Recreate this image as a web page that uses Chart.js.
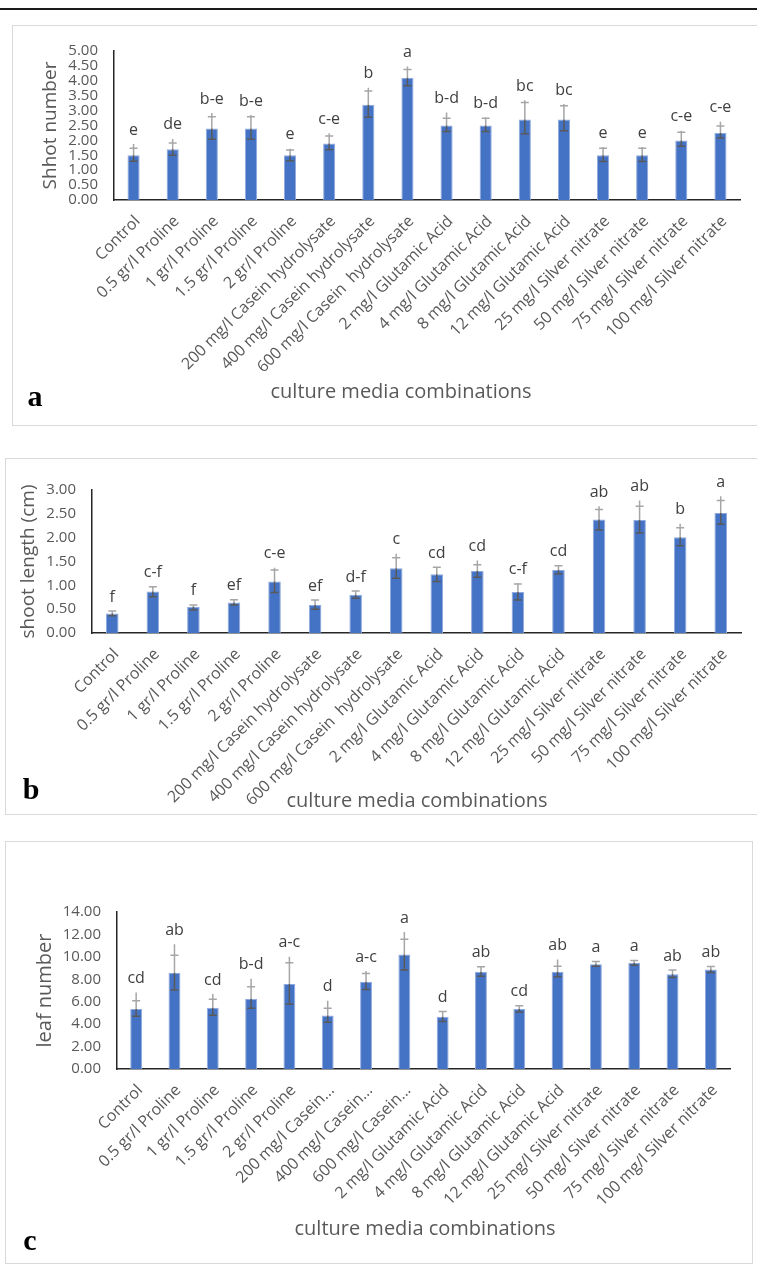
<!DOCTYPE html>
<html>
<head>
<meta charset="utf-8">
<script src="https://cdn.jsdelivr.net/npm/chart.js@4.4.1/dist/chart.umd.min.js"></script>
<style>
  body { margin: 0; background: #fff; width: 757px; height: 1267px; position: relative; overflow: hidden; }
  .rule { position: absolute; left: 0; top: 8px; width: 757px; height: 2px; background: #1a1a1a; }
  .box { position: absolute; border: 1px solid #d9d9d9; box-sizing: border-box; }
  canvas { position: absolute; }
  .xt { position: absolute; font: 20px "Open Sans", sans-serif; color: #595959; transform: translate(-50%, -50%); white-space: nowrap; }
  .pl { position: absolute; font: bold 30px "Liberation Serif", "Times New Roman", serif; color: #000; transform: translate(-50%, -50%); }
</style>
</head>
<body>
<div class="rule"></div>
<div class="box" style="left:12px;top:25px;width:760px;height:401px"></div>
<div class="box" style="left:5px;top:458px;width:760px;height:357px"></div>
<div class="box" style="left:5px;top:841px;width:748px;height:423px"></div>

<canvas id="chartA" width="745" height="399" style="left:12px;top:26px"></canvas>
<canvas id="chartB" width="752" height="354" style="left:5px;top:459px"></canvas>
<canvas id="chartC" width="746" height="420" style="left:5px;top:842px"></canvas>

<div class="xt" style="left:401px;top:390px">culture media combinations</div>
<div class="xt" style="left:417px;top:799px">culture media combinations</div>
<div class="xt" style="left:425px;top:1227px">culture media combinations</div>
<div class="pl" style="left:35px;top:396px">a</div>
<div class="pl" style="left:31px;top:789px">b</div>
<div class="pl" style="left:30px;top:1240px">c</div>

<script>
// categories
const treatments = [
  "Control", "0.5 gr/l Proline", "1 gr/l Proline", "1.5 gr/l Proline", "2 gr/l Proline",
  "200 mg/l Casein hydrolysate", "400 mg/l Casein hydrolysate", "600 mg/l Casein  hydrolysate",
  "2 mg/l Glutamic Acid", "4 mg/l Glutamic Acid", "8 mg/l Glutamic Acid", "12 mg/l Glutamic Acid",
  "25 mg/l Silver nitrate", "50 mg/l Silver nitrate", "75 mg/l Silver nitrate", "100 mg/l Silver nitrate"
];
const treatmentsShort = [
  "Control", "0.5 gr/l Proline", "1 gr/l Proline", "1.5 gr/l Proline", "2 gr/l Proline",
  "200 mg/l Casein...", "400 mg/l Casein...", "600 mg/l Casein...",
  "2 mg/l Glutamic Acid", "4 mg/l Glutamic Acid", "8 mg/l Glutamic Acid", "12 mg/l Glutamic Acid",
  "25 mg/l Silver nitrate", "50 mg/l Silver nitrate", "75 mg/l Silver nitrate", "100 mg/l Silver nitrate"
];

// a - shoot number
const shootNumber = [1.5, 1.7, 2.4, 2.4, 1.5, 1.9, 3.2, 4.1, 2.5, 2.5, 2.7, 2.7, 1.5, 1.5, 2.0, 2.25];
const shootNumberLow = [1.30, 1.50, 2.04, 2.04, 1.32, 1.69, 2.78, 3.83, 2.30, 2.30, 2.22, 2.32, 1.29, 1.29, 1.80, 2.08];
const shootNumberHigh = [1.74, 1.91, 2.79, 2.79, 1.68, 2.15, 3.66, 4.38, 2.74, 2.74, 3.27, 3.16, 1.74, 1.74, 2.27, 2.48];
const shootNumberTop = [1.88, 2.05, 2.92, 2.85, 1.72, 2.24, 3.77, 4.48, 2.94, 2.78, 3.35, 3.22, 1.78, 1.78, 2.32, 2.63];
const shootNumberLetters = ["e", "de", "b-e", "b-e", "e", "c-e", "b", "a", "b-d", "b-d", "bc", "bc", "e", "e", "c-e", "c-e"];
const shootNumberTicks = [0, 5, 0.5];

// b - shoot length
const shootLength = [0.41, 0.87, 0.55, 0.64, 1.08, 0.59, 0.80, 1.36, 1.23, 1.30, 0.86, 1.32, 2.38, 2.37, 2.01, 2.52];
const shootLengthLow = [0.36, 0.76, 0.48, 0.59, 0.85, 0.50, 0.73, 1.15, 1.08, 1.17, 0.69, 1.24, 2.16, 2.10, 1.83, 2.28];
const shootLengthHigh = [0.46, 0.97, 0.59, 0.70, 1.32, 0.69, 0.88, 1.58, 1.38, 1.43, 1.03, 1.41, 2.59, 2.66, 2.21, 2.78];
const shootLengthTop = [0.46, 0.97, 0.59, 0.70, 1.37, 0.69, 0.88, 1.66, 1.38, 1.52, 1.05, 1.41, 2.66, 2.78, 2.29, 2.87];
const shootLengthLetters = ["f", "c-f", "f", "ef", "c-e", "ef", "d-f", "c", "cd", "cd", "c-f", "cd", "ab", "ab", "b", "a"];
const shootLengthTicks = [0, 3, 0.5];

// c - leaf number
const leafNumber = [5.36, 8.58, 5.47, 6.27, 7.57, 4.76, 7.78, 10.21, 4.67, 8.67, 5.36, 8.67, 9.35, 9.47, 8.46, 8.88];
const leafNumberLow = [4.70, 7.04, 4.79, 5.41, 5.77, 4.17, 7.10, 8.82, 4.23, 8.28, 5.09, 8.22, 9.17, 9.26, 8.17, 8.61];
const leafNumberHigh = [6.09, 10.15, 6.21, 7.34, 9.47, 5.41, 8.52, 11.57, 5.12, 9.11, 5.65, 9.17, 9.59, 9.67, 8.82, 9.14];
const leafNumberTop = [6.83, 11.12, 6.69, 8.05, 10.0, 6.09, 8.73, 12.22, 5.12, 9.11, 5.65, 9.76, 9.59, 9.67, 8.82, 9.14];
const leafNumberLetters = ["cd", "ab", "cd", "b-d", "a-c", "d", "a-c", "a", "d", "ab", "cd", "ab", "a", "a", "ab", "ab"];
const leafNumberTicks = [0, 14, 2];

Chart.defaults.font.family = "'Open Sans', sans-serif";
Chart.defaults.color = "#595959";

// error bars + letters on top of the bars
const errorBars = {
  id: "errorBars",
  afterDatasetsDraw(chart, args, opts) {
    const ctx = chart.ctx;
    const y = chart.scales.y;
    const meta = chart.getDatasetMeta(0);
    const vals = chart.data.datasets[0].data;
    ctx.save();
    ctx.lineWidth = 1.5;
    meta.data.forEach((bar, i) => {
      const x = bar.x;
      const yv = y.getPixelForValue(vals[i]);
      const yLow = y.getPixelForValue(opts.low[i]);
      const yHigh = y.getPixelForValue(opts.high[i]);
      const yTop = y.getPixelForValue(opts.top[i]);
      // light upper whisker
      ctx.strokeStyle = "#a6a6a6";
      ctx.beginPath();
      ctx.moveTo(x, yv);
      ctx.lineTo(x, yTop);
      ctx.moveTo(x - 4, yHigh);
      ctx.lineTo(x + 4, yHigh);
      ctx.stroke();
      // dark lower whisker
      ctx.strokeStyle = "#595959";
      ctx.beginPath();
      ctx.moveTo(x, yv);
      ctx.lineTo(x, yLow);
      ctx.moveTo(x - 4, yLow);
      ctx.lineTo(x + 4, yLow);
      ctx.stroke();
      // letters
      ctx.fillStyle = "#404040";
      ctx.font = "16px 'Open Sans', sans-serif";
      ctx.textAlign = "center";
      ctx.textBaseline = "middle";
      ctx.fillText(opts.letters[i], x, Math.min(yTop, yHigh) - 14);
    });
    ctx.restore();
  },
};

function buildChart(id, labels, values, low, high, top, letters, ticks, yTitle, geo) {
  return new Chart(document.getElementById(id), {
    type: "bar",
    data: {
      labels: labels,
      datasets: [{
        data: values,
        backgroundColor: "#4472C4",
        borderColor: "#8FAADC",
        borderWidth: 1,
        barPercentage: 0.31,
        categoryPercentage: 1,
      }],
    },
    options: {
      responsive: false,
      animation: false,
      layout: { padding: { top: geo.top, right: geo.right, left: 0, bottom: 0 } },
      scales: {
        x: {
          grid: { display: false, drawTicks: false },
          border: { display: true, color: "#262626", width: 1.5 },
          ticks: {
            autoSkip: false,
            minRotation: 45,
            maxRotation: 45,
            padding: 12,
            labelOffset: 4,
            color: "#595959",
            font: { size: 16 },
          },
          afterFit: (s) => { s.height = geo.xHeight; },
        },
        y: {
          min: ticks[0],
          max: ticks[1],
          grid: { display: false, drawTicks: false },
          border: { display: true, color: "#262626", width: 1.5 },
          ticks: {
            stepSize: ticks[2],
            autoSkip: false,
            padding: 16,
            color: "#595959",
            font: { size: 15 },
            callback: (v) => v.toFixed(2),
          },
          title: {
            display: true,
            text: yTitle,
            color: "#595959",
            font: { size: geo.titleSize },
            padding: { top: geo.titlePad, bottom: 0 },
          },
          afterFit: (s) => { s.width = geo.yWidth; },
        },
      },
      plugins: {
        legend: { display: false },
        tooltip: { enabled: false },
        errorBars: { low: low, high: high, top: top, letters: letters },
      },
    },
    plugins: [errorBars],
  });
}

buildChart("chartA", treatments, shootNumber, shootNumberLow, shootNumberHigh, shootNumberTop,
  shootNumberLetters, shootNumberTicks, "Shhot number",
  { top: 21, right: 17, xHeight: 225, yWidth: 102, titleSize: 19, titlePad: 27 });

buildChart("chartB", treatments, shootLength, shootLengthLow, shootLengthHigh, shootLengthTop,
  shootLengthLetters, shootLengthTicks, "shoot length (cm)",
  { top: 31, right: 16, xHeight: 180, yWidth: 87, titleSize: 19, titlePad: 12 });

buildChart("chartC", treatmentsShort, leafNumber, leafNumberLow, leafNumberHigh, leafNumberTop,
  leafNumberLetters, leafNumberTicks, "leaf number",
  { top: 70, right: 21, xHeight: 193, yWidth: 112, titleSize: 20, titlePad: 28 });
</script>
</body>
</html>
